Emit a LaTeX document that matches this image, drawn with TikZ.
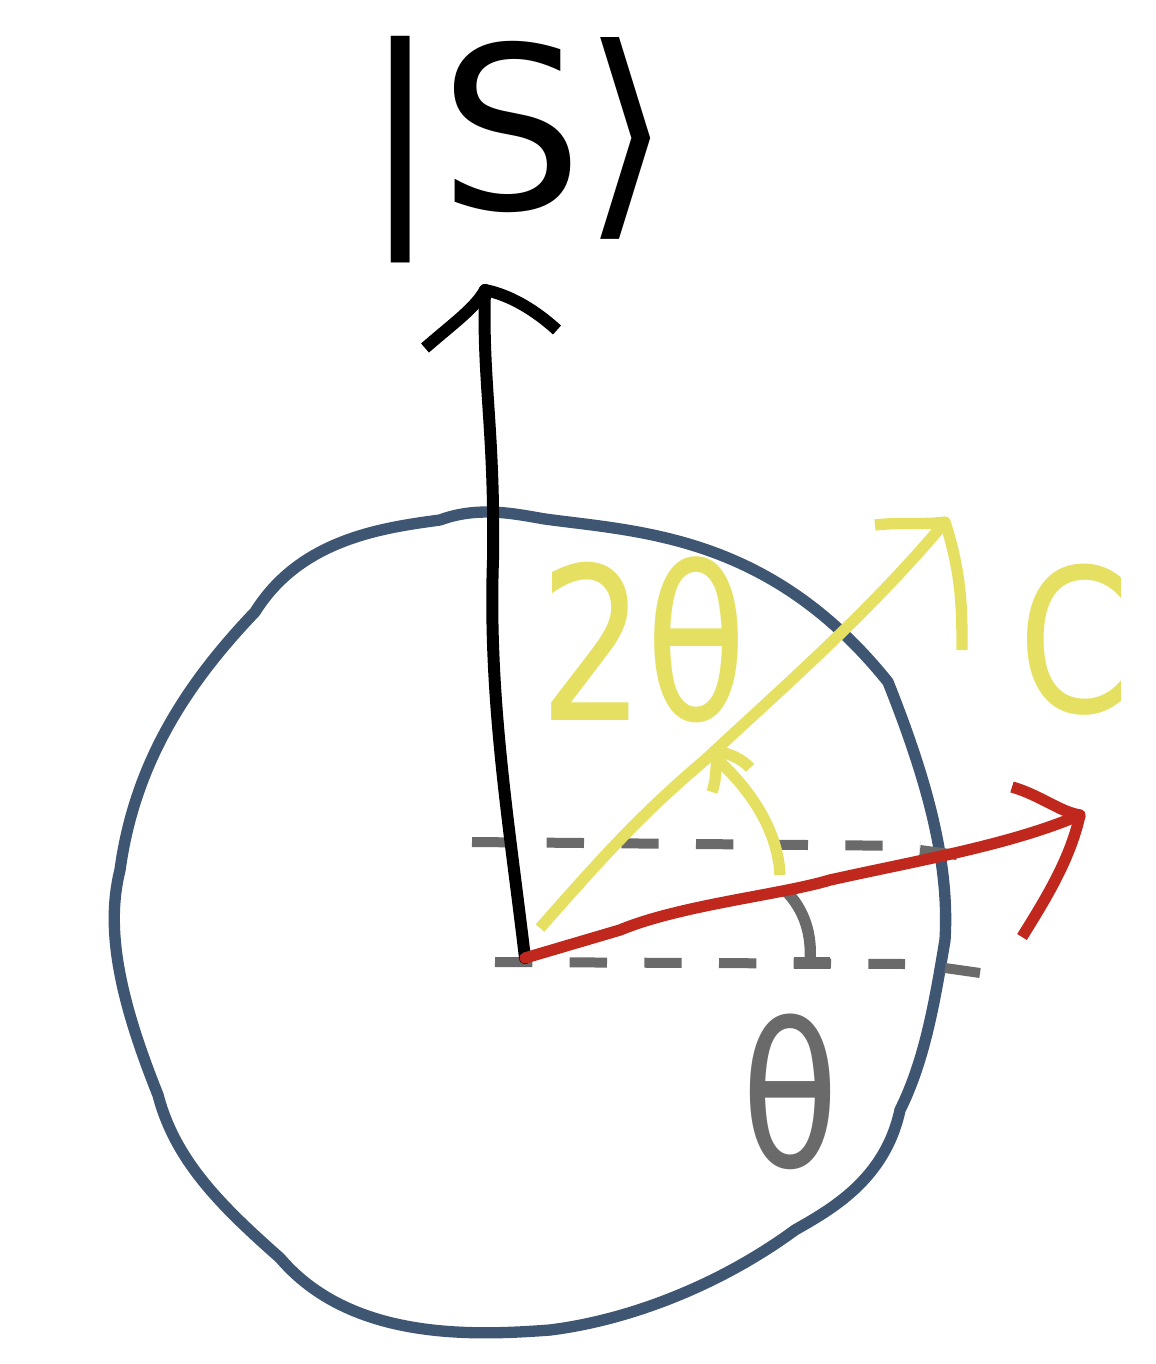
\documentclass[tikz,border=0pt]{standalone}
\usepackage{graphicx}
\usepackage{fontspec}
\setmainfont{DejaVu Sans}
\definecolor{blochblue}{RGB}{63,86,114}
\definecolor{sketchyellow}{RGB}{230,224,98}
\definecolor{sketchred}{RGB}{192,40,30}
\definecolor{sketchgray}{RGB}{106,106,106}
\tikzset{
  pen/.style={line width=8.5pt, line cap=round, line join=round},
  hint/.style={line width=7.5pt, sketchgray, dash pattern={on 28pt off 28pt}},
  bigtext/.style={inner sep=0pt}
}
\begin{document}
\begin{tikzpicture}[x=0.75pt,y=0.75pt,yscale=-1,xscale=1]
\useasboundingbox (0,0) rectangle (1156,1364);
\coordinate (O) at (525,958);
\coordinate (tipS) at (485,290);
\coordinate (tipC) at (945,522);
\coordinate (tipR) at (1080,815);
%Text
\node[bigtext] (ket) at (517,150) {\scalebox{17}[17]{|S⟩}};
\node[bigtext, sketchyellow] (twotheta) at (643,640) {\scalebox{12.5}[16]{2θ}};
\node[bigtext, sketchgray] (theta) at (790,1092) {\scalebox{12}[15]{θ}};
\node[bigtext, sketchyellow, anchor=west] (cee) at (1018,640) {\scalebox{12}[15]{C}};
%Curve Lines (sphere)
\draw [pen, blochblue]
(440,520) .. controls (480,505) and (520,515) .. (545,519)
.. controls (640,532) and (770,535) .. (888,682)
.. controls (925,775) and (950,860) .. (945,940)
.. controls (935,1000) and (925,1060) .. (900,1110)
.. controls (885,1180) and (830,1210) .. (795,1230)
.. controls (720,1285) and (630,1320) .. (550,1330)
.. controls (470,1336) and (350,1340) .. (280,1258)
.. controls (220,1205) and (175,1160) .. (158,1095)
.. controls (120,1000) and (105,930) .. (120,870)
.. controls (135,760) and (190,680) .. (255,612)
.. controls (300,540) and (380,528) .. (440,520) ;
%Straight Lines (dashed guides)
\draw [hint] (472,842) -- (920,846) ;
\draw [hint] (920,850) -- (957,855) ;
\draw [hint] (495,962) -- (905,964) ;
\draw [hint] (945,968) -- (980,973) ;
%Curve Lines (theta arc)
\draw [pen, sketchgray, line cap=butt] (785,890) .. controls (805,910) and (812,935) .. (810,962) ;
\draw [pen, sketchgray, line cap=butt] (794,963) -- (830,963) ;
%Curve Lines (ket arrow)
\draw [pen, black, line width=9pt] (O) .. controls (510,830) and (488,700) .. (493,560)
.. controls (495,430) and (482,380) .. (tipS) ;
\draw [pen, black, line width=9pt, line cap=butt] (425,348) .. controls (455,322) and (475,308) .. (tipS)
.. controls (510,295) and (535,310) .. (557,330) ;
%Curve Lines (yellow arrow)
\draw [pen, sketchyellow, line cap=butt] (540,928) .. controls (600,860) and (640,815) .. (705,760)
.. controls (780,690) and (870,612) .. (tipC) ;
\draw [pen, sketchyellow, line cap=butt] (875,525) .. controls (900,522) and (925,525) .. (tipC)
.. controls (962,575) and (962,610) .. (962,650) ;
%Curve Lines (yellow angle)
\draw [pen, sketchyellow, line cap=butt] (780,875) .. controls (778,830) and (750,790) .. (720,762) ;
\draw [pen, sketchyellow, line cap=butt] (712,792) .. controls (718,775) and (714,762) .. (720,752)
.. controls (735,755) and (745,762) .. (750,768) ;
%Curve Lines (red arrow)
\draw [pen, sketchred] (O) -- (620,930) .. controls (680,905) and (780,895) .. (830,880)
.. controls (920,860) and (1010,845) .. (tipR) ;
\draw [pen, sketchred, line cap=butt] (1012,787) .. controls (1040,795) and (1060,812) .. (tipR)
.. controls (1070,860) and (1045,900) .. (1022,937) ;
\end{tikzpicture}
\end{document}
